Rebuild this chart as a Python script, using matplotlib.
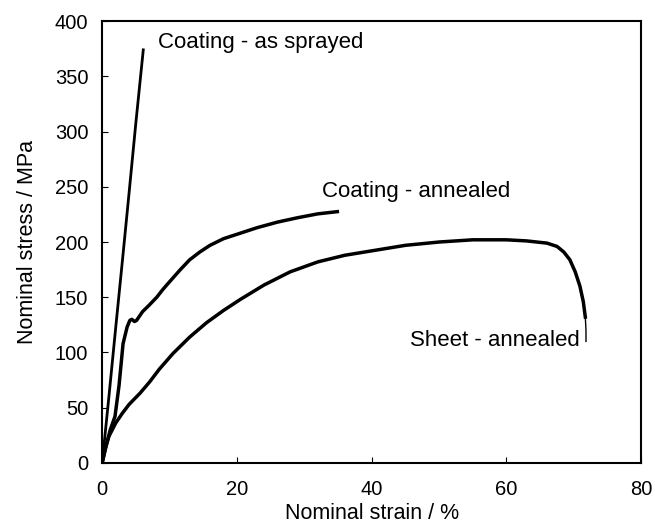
import matplotlib
matplotlib.use('Agg')
import matplotlib.pyplot as plt

plt.rcParams['font.family'] = ['Liberation Sans', 'DejaVu Sans']

# as sprayed coating
sprayed_strain = [0, 1.0, 2.0, 3.0, 4.0, 5.0, 6.1]
sprayed_stress = [0, 60, 122, 183, 245, 308, 374]

# annealed coating
coat_strain = [0, 0.3, 0.7, 1.2, 1.9, 2.5, 3.1, 3.7, 4.1, 4.4, 4.8, 5.1, 6.0, 7.0, 8.1,
               9.0, 10.0, 11.6, 13.0, 14.5, 16.0, 18.0, 20.0, 23.0, 26.0, 29.0, 32.0, 34.9]
coat_stress = [0, 8, 18, 30, 42, 70, 108, 123, 129, 130, 128, 129, 137, 143, 150,
               157, 164, 175, 184, 191, 197, 203, 207, 213, 218, 222, 225.5, 227.5]

# annealed sheet
sheet_strain = [0, 0.5, 1.0, 2.0, 3.0, 4.0, 5.6, 7.0, 8.5, 10.5, 13.0, 15.5, 18.0, 20.5,
                24.0, 27.9, 32.0, 36.0, 40.0, 45.0, 50.0, 55.0, 60.0, 63.0, 66.0, 67.5,
                68.5, 69.4, 70.2, 70.9, 71.4, 71.7, 71.8, 71.8]
sheet_stress = [0, 14, 24, 36, 45, 53, 63, 73, 85, 99, 114, 127, 138, 148,
                161, 173, 182, 188, 192, 197, 200, 202, 202, 201, 199, 196,
                191, 184, 173, 160, 146, 132, 120, 110]

labels = ['Coating - as sprayed', 'Coating - annealed', 'Sheet - annealed']

fig = plt.figure(figsize=(6.55, 5.29), dpi=100)
ax = fig.add_axes([0.156, 0.125, 0.823, 0.835])

ax.plot(sprayed_strain, sprayed_stress, color='black', lw=2)
ax.plot(coat_strain, coat_stress, color='black', lw=2.5)
ax.plot(sheet_strain[:-2], sheet_stress[:-2], color='black', lw=2.5)
ax.plot(sheet_strain[-3:], sheet_stress[-3:], color='black', lw=1)

ax.text(8.3, 381, labels[0], fontsize=16, va='center')
ax.text(32.6, 246, labels[1], fontsize=16, va='center')
ax.text(45.7, 111, labels[2], fontsize=16, va='center')

ax.set_xlim(0, 80)
ax.set_ylim(0, 400)
ax.set_xticks(range(0, 81, 20))
ax.set_yticks(range(0, 401, 50))
ax.tick_params(direction='in', length=4, labelsize=14.5)
ax.tick_params(axis='x', pad=12)
ax.tick_params(axis='y', pad=10)
for s in ax.spines.values():
    s.set_linewidth(1.5)

ax.set_xlabel('Nominal strain / %', fontsize=15.5, labelpad=3)
ax.set_ylabel('Nominal stress / MPa', fontsize=15.5, labelpad=12)

fig.savefig('out.png', dpi=100)
